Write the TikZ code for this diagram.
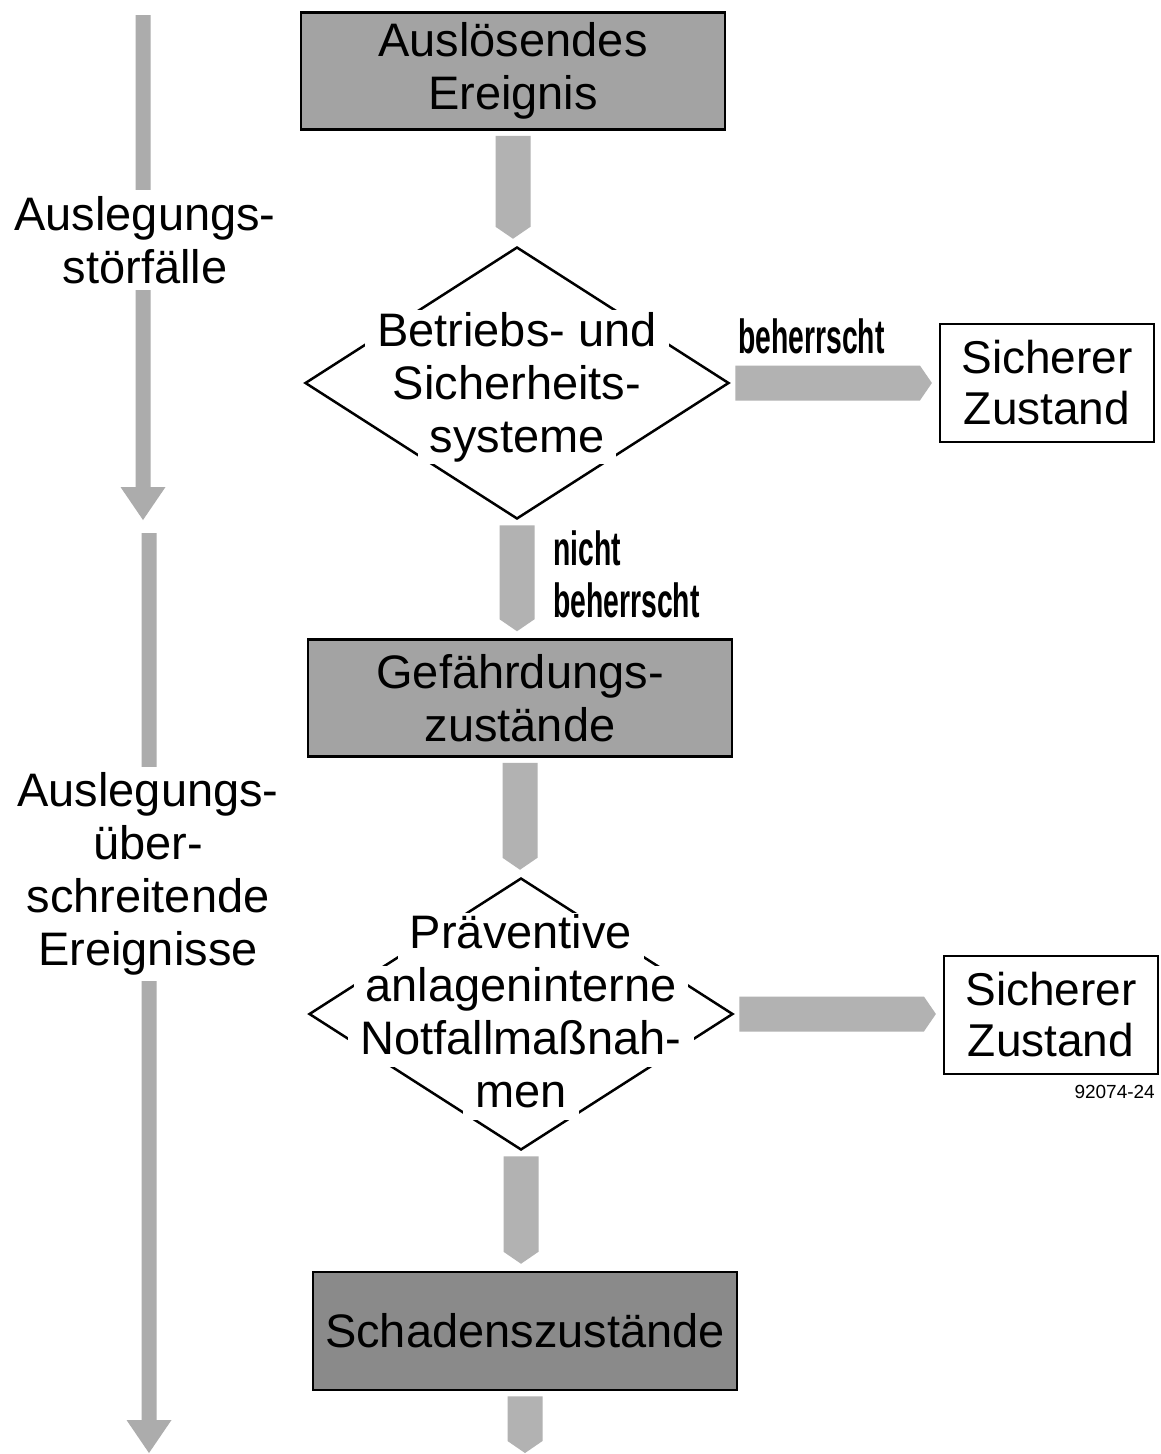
\documentclass[tikz,border=0pt]{standalone}
\usepackage{fontspec}
\setmainfont{Liberation Sans}
\newfontfamily\condfont[FakeStretch=0.59]{Liberation Sans}
\usepackage{tikz}
\usetikzlibrary{shapes.geometric, calc, backgrounds}
\definecolor{boxgray}{RGB}{163,163,163}
\definecolor{schadengray}{RGB}{138,138,138}
\definecolor{flowgray}{RGB}{178,178,178}
\definecolor{sidegray}{RGB}{172,172,172}
\tikzset{
  statebox/.style={rectangle, draw=black, fill=boxgray, line width=2.5pt,
    minimum width=424pt, minimum height=117pt, align=center,
    font=\fontsize{47}{53}\selectfont, inner sep=0pt},
  safebox/.style={rectangle, draw=black, fill=white, line width=2.2pt,
    minimum width=214pt, minimum height=118pt, align=center,
    font=\fontsize{46}{51}\selectfont, inner sep=0pt},
  decision/.style={diamond, draw=black, line width=2.5pt,
    minimum width=424pt, minimum height=272pt, inner sep=0pt},
  dectext/.style={align=center, font=\fontsize{47}{53}\selectfont, inner sep=0pt},
  sidetext/.style={align=center, font=\fontsize{47}{53}\selectfont,
    fill=white, inner sep=6pt},
  flowlabel/.style={font=\condfont\bfseries\fontsize{48}{52}\selectfont,
    align=left, inner sep=0pt},
  figno/.style={font=\fontsize{19}{21}\selectfont, inner sep=0pt}
}
% white box behind one line of text inside a diamond
\newcommand{\cutline}[1]{{\setlength{\fboxsep}{0pt}\colorbox{white}{\hspace{12pt}\rule[-12pt]{0pt}{48pt}#1\hspace{12pt}}}}
% broad flow arrows
\newcommand{\flowdown}[2]{\fill[flowgray] ($(#1)+(-17.5,5)$) -- ($(#1 |- #2)+(-17.5,-19)$) -- ($(#1 |- #2)+(0,-7)$) -- ($(#1 |- #2)+(17.5,-19)$) -- ($(#1)+(17.5,5)$) -- cycle;}
\newcommand{\flowright}[2]{\fill[flowgray] ($(#1)+(5,-17.5)$) -- ($(#1 -| #2)+(-19,-17.5)$) -- ($(#1 -| #2)+(-7,0)$) -- ($(#1 -| #2)+(-19,17.5)$) -- ($(#1)+(5,17.5)$) -- cycle;}
\newcommand{\sideflow}[2]{\fill[sidegray] ($(#1)+(-7.5,0)$) -- ($(#1 |- #2)+(-7.5,-33)$) -- ($(#1 |- #2)+(-22.5,-33)$) -- (#1 |- #2) -- ($(#1 |- #2)+(22.5,-33)$) -- ($(#1 |- #2)+(7.5,-33)$) -- ($(#1)+(7.5,0)$) -- cycle;}

\begin{document}
\begin{tikzpicture}[x=1pt, y=-1pt]
  \useasboundingbox (0,0) rectangle (1161,1454);

  % Main chain
  \node[statebox] (ereignis) at (513,71) {Auslösendes\\Ereignis};
  \node[decision] (dec1) at (517,383) {};
  \node[dectext] (dec1text) at ($(dec1)+(0,4)$) {\cutline{Betriebs- und}\\\cutline{Sicherheits-}\\\cutline{systeme}};
  \node[safebox] (sicher1) at (1047,383) {Sicherer\\Zustand};
  \node[flowlabel, anchor=base west] (okA) at (738,353) {beherrscht};
  \node[flowlabel, anchor=north west] (notok) at (553,531) {nicht\\beherrscht};
  \node[statebox] (gefahr) at (520,698) {Gefährdungs-\\zustände};
  \node[decision] (dec2) at (521,1014) {};
  \node[dectext] (dec2text) at ($(dec2)+(0,2)$) {\cutline{Präventive}\\\cutline{anlageninterne}\\\cutline{Notfallmaßnah-}\\\cutline{men}};
  \node[safebox] (sicher2) at (1051,1015) {Sicherer\\Zustand};
  \node[figno, anchor=base east] (figno) at (1155,1098) {92074-24};
  \node[statebox, fill=schadengray, minimum height=118pt] (schaden) at (525,1331) {Schadenszustände};
  \coordinate (schadenend) at (525,1460);

  % Side column
  \node[sidetext] (ausl1) at (145,240) {Auslegungs-\\störfälle};
  \node[sidetext] (ausl2) at (148,874) {Auslegungs-\\über-\\schreitende\\Ereignisse};
  \coordinate (sideAtop) at (143,15);
  \coordinate (sideAtip) at (146,520);
  \coordinate (sideBtop) at (149,533);
  \coordinate (sideBtip) at (151,1453);

  % Arrows
  \begin{scope}[on background layer]
    \fill[white] (0,0) rectangle (1161,1454);
    \sideflow{sideAtop}{sideAtip}
    \sideflow{sideBtop}{sideBtip}
    \flowdown{ereignis.south}{dec1.north}
    \flowdown{dec1.south}{gefahr.north}
    \flowdown{gefahr.south}{dec2.north}
    \flowdown{dec2.south}{schaden.north}
    \flowdown{schaden.south}{schadenend}
    \flowright{dec1.east}{sicher1.west}
    \flowright{dec2.east}{sicher2.west}
  \end{scope}
\end{tikzpicture}
\end{document}
